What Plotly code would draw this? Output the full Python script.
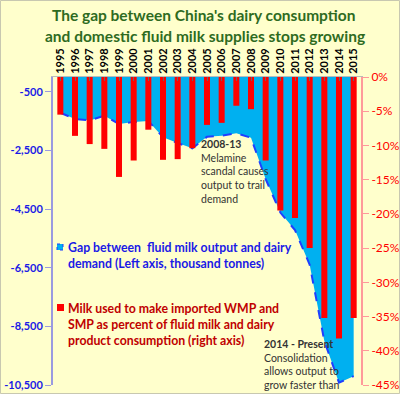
import plotly.graph_objects as go

years = list(range(1995, 2016))
gap_kt = [-1220, -1430, -1480, -1320, -1600, -1530, -1500, -2050, -2250, -2430,
          -2040, -2000, -1920, -2070, -3480, -4620, -5220, -6400, -9000, -10420, -10200]
import_pct = [-5.5, -8.6, -9.8, -10.5, -14.6, -12.2, -7.7, -12.1, -12.0, -10.4,
              -7.0, -6.7, -4.2, -4.7, -12.2, -19.5, -20.6, -25.0, -35.2, -38.2, -35.2]
left_ticks = [-500, -2500, -4500, -6500, -8500, -10500]
right_ticks = [0, -5, -10, -15, -20, -25, -30, -35, -40, -45]

W, H = 400, 394
ML, MR, MT, MB = 53, 39, 77, 9
PW, PH = W - ML - MR, H - MT - MB

def px(x):
    return (x - ML) / PW

def py(y):
    return 1 - (y - MT) / PH

FONT = "Lato"
BLUE = "#1A1AE6"
RED = "#FF0000"
DRED = "#C00000"

fig = go.Figure()
fig.add_trace(go.Scatter(
    x=years, y=gap_kt, mode="lines", fill="tozeroy",
    fillcolor="#00B0F0",
    line=dict(color="#1F3FFF", width=2, dash="dash"),
    yaxis="y", showlegend=False, hoverinfo="skip"))
fig.add_trace(go.Bar(
    x=years, y=import_pct, marker=dict(color=RED, line=dict(width=0)),
    width=0.41, yaxis="y2", showlegend=False, hoverinfo="skip"))

fig.update_layout(
    width=W, height=H,
    margin=dict(l=ML, r=MR, t=MT, b=MB, autoexpand=False),
    paper_bgcolor="#FFFFCC", plot_bgcolor="#FFFFCC",
    font=dict(family=FONT),
    xaxis=dict(side="top", range=[1994.5, 2015.5], tickmode="array",
               tickvals=years, ticktext=["<b>%d</b>" % y for y in years],
               tickangle=-90, tickfont=dict(size=11, color="#000000", family=FONT),
               showgrid=False, zeroline=False, ticks="inside", ticklen=4,
               tickcolor="#666666", showline=True, linecolor="#BBBBBB", linewidth=1,
               automargin=False),
    yaxis=dict(range=[-10500, 0], tickmode="array", tickvals=left_ticks,
               ticktext=["<b>%s</b>" % format(v, ",") for v in left_ticks],
               tickfont=dict(size=11, color=BLUE, family=FONT),
               showgrid=False, zeroline=False, showline=True, linecolor="#9A9AE0",
               linewidth=2, ticks="outside", ticklen=6, tickcolor="#9A9AE0",
               automargin=False),
    yaxis2=dict(range=[-45, 0], overlaying="y", side="right", tickmode="array",
                tickvals=right_ticks, ticktext=["%d%%" % v for v in right_ticks],
                tickfont=dict(size=12, color=RED, family=FONT),
                showgrid=False, zeroline=False, showline=True, linecolor="#FF9A9A",
                linewidth=2, ticks="outside", ticklen=6, tickcolor="#FF9A9A",
                automargin=False),
    bargap=0.59,
    showlegend=False,
)

ann = []
ann.append(dict(text="<b>The gap between China's dairy consumption</b>",
                x=px(203), y=py(15), xanchor="center", yanchor="middle",
                font=dict(size=15.5, color="#2E6B1F", family=FONT)))
ann.append(dict(text="<b>and domestic fluid milk supplies stops growing</b>",
                x=px(205), y=py(36), xanchor="center", yanchor="middle",
                font=dict(size=15.5, color="#2E6B1F", family=FONT)))
ann.append(dict(text="<b>Gap between  fluid milk output and dairy<br>demand (Left axis, thousand tonnes)</b>",
                x=px(66), y=py(238), xanchor="left", yanchor="top", align="left",
                font=dict(size=12.3, color=BLUE, family=FONT)))
ann.append(dict(text="<b>Milk used to make imported WMP and<br>SMP as percent of fluid milk and dairy<br>product consumption (right axis)</b>",
                x=px(66), y=py(299), xanchor="left", yanchor="top", align="left",
                font=dict(size=12.3, color=DRED, family=FONT)))
ann.append(dict(text="<b>2008-13</b><br>Melamine<br>scandal causes<br>output to trail<br>demand",
                x=px(199), y=py(136), xanchor="left", yanchor="top", align="left",
                font=dict(size=10.5, color="#333333", family=FONT)))
ann.append(dict(text="<b>2014 - Present</b><br>Consolidation<br>allows output to<br>grow faster than",
                x=px(262), y=py(336), xanchor="left", yanchor="top", align="left",
                font=dict(size=10.5, color="#333333", family=FONT)))
for a in ann:
    a.update(xref="paper", yref="paper", showarrow=False)
fig.update_layout(annotations=ann)

shapes = [
    dict(type="rect", xref="paper", yref="paper", x0=px(57), x1=px(63), y0=py(244), y1=py(250),
         fillcolor="#00B0F0", line=dict(color="#1F3FFF", width=1, dash="dot")),
    dict(type="rect", xref="paper", yref="paper", x0=px(57), x1=px(64), y0=py(304), y1=py(311),
         fillcolor=RED, line=dict(width=0)),
    dict(type="rect", xref="paper", yref="paper", x0=px(0.5), x1=px(399.5), y0=py(0.5), y1=py(393.5),
         fillcolor="rgba(0,0,0,0)", line=dict(color="#C8C8B0", width=1)),
]
fig.update_layout(shapes=shapes)

fig.write_html("out.html",
               config={"displayModeBar": False, "staticPlot": True},
               post_script="document.body.style.margin='0px';document.body.style.padding='0px';document.body.style.overflow='hidden';")
